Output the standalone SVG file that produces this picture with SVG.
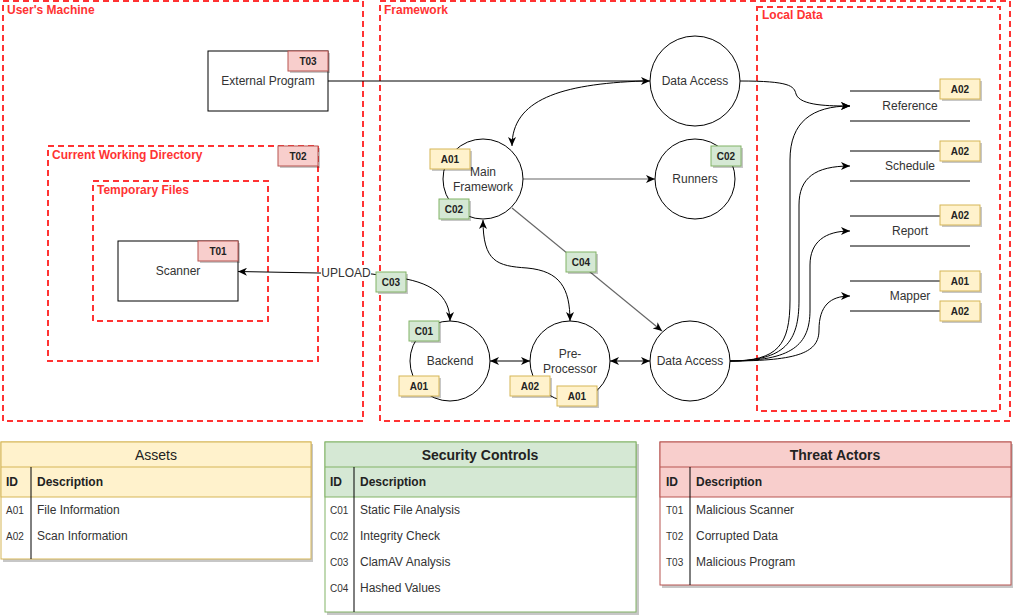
<svg xmlns="http://www.w3.org/2000/svg" width="1014" height="616" viewBox="0 0 1014 616">
<style>
.zone{fill:none;stroke:#FF3333;stroke-width:2;stroke-dasharray:6 4}
.zl{font-family:"Liberation Sans",Arial,sans-serif;font-size:12px;font-weight:bold;fill:#FF3333}
.proc{fill:#fff;stroke:#000;stroke-width:1}
.t{font-family:"Liberation Sans",Arial,sans-serif;font-size:12px;fill:#333;text-anchor:middle;dominant-baseline:central}
.ba{fill:#fff2cc;stroke:#d6b656}
.bc{fill:#d5e8d4;stroke:#82b366}
.br{fill:#f8cecc;stroke:#b85450}
.sh{fill:#000;opacity:0.22}
.bt{font-family:"Liberation Sans",Arial,sans-serif;font-size:10px;font-weight:bold;fill:#222;text-anchor:middle;dominant-baseline:central}
.e{fill:none;stroke:#000;stroke-width:1}
.eg{fill:none;stroke:#666;stroke-width:1.2}
.st{stroke:#000;stroke-width:1}
.tt{font-family:"Liberation Sans",Arial,sans-serif;font-size:14px;fill:#222;text-anchor:middle;dominant-baseline:central}
.th{font-family:"Liberation Sans",Arial,sans-serif;font-size:12px;font-weight:bold;fill:#222;dominant-baseline:central}
.tid{font-family:"Liberation Sans",Arial,sans-serif;font-size:10px;fill:#333;dominant-baseline:central}
.td{font-family:"Liberation Sans",Arial,sans-serif;font-size:12px;fill:#333;dominant-baseline:central}
</style>
<defs>
<marker id="ar" markerUnits="userSpaceOnUse" markerWidth="10" markerHeight="8" refX="9" refY="4" orient="auto-start-reverse">
<path d="M0,0 L9,4 L0,8 L2.5,4 z" fill="#000"/>
</marker>
</defs>
<rect width="1014" height="616" fill="#fff"/>

<!-- zones -->
<g id="users-machine">
<rect class="zone" x="3" y="1" width="360" height="420"/>
<text class="zl" x="7" y="14">User's Machine</text>
</g>
<g id="framework">
<rect class="zone" x="380" y="1" width="630" height="420"/>
<text class="zl" x="384" y="14">Framework</text>
</g>
<g id="local-data">
<rect class="zone" x="757" y="7" width="243" height="404"/>
<text class="zl" x="762" y="19">Local Data</text>
</g>
<g id="cwd">
<rect class="zone" x="48" y="146" width="270" height="215"/>
<text class="zl" x="52" y="159">Current Working Directory</text>
<rect class="sh" x="280" y="148" width="40" height="20"/>
<rect class="br" x="278" y="146" width="40" height="20"/>
<text class="bt" x="298" y="156">T02</text>
</g>
<g id="temp-files">
<rect class="zone" x="93" y="181" width="175" height="140"/>
<text class="zl" x="97" y="194">Temporary Files</text>
</g>

<!-- connectors -->
<g id="connectors">
<path class="e" d="M328 81 L650 81" marker-end="url(#ar)"/>
<path class="e" d="M643 81 C560 84 512 100 512 146" marker-end="url(#ar)"/>
<path class="eg" d="M523 179 L655 179" marker-end="url(#ar)"/>
<path class="e" d="M483 220 C483 262 497 266 527 268 C560 271 570 288 570 321" marker-start="url(#ar)" marker-end="url(#ar)"/>
<path class="eg" d="M512 208 L662 331" marker-end="url(#ar)"/>
<path class="e" d="M490 361 L530 361" marker-start="url(#ar)" marker-end="url(#ar)"/>
<path class="e" d="M610 361 L650 361" marker-start="url(#ar)" marker-end="url(#ar)"/>
<path class="e" d="M450 321 C450 296 432 281 392 277 L372 274 L238 271.5" marker-start="url(#ar)" marker-end="url(#ar)"/>
<path class="e" d="M740 81 C790 81 794 86 796 94 C800 106 830 106 850 106" marker-end="url(#ar)"/>
<path class="e" d="M730 361 C778 361 790 345 790 300 L790 160 C790 122 812 106 850 106" marker-end="url(#ar)"/>
<path class="e" d="M730 361 C785 361 799 342 799 300 L799 205 C799 178 815 166 850 166" marker-end="url(#ar)"/>
<path class="e" d="M730 361 C792 361 810 345 810 310 L810 265 C810 242 825 231 850 231" marker-end="url(#ar)"/>
<path class="e" d="M730 361 C800 361 819 352 819 330 C819 306 830 296 850 296" marker-end="url(#ar)"/>
<rect x="321" y="265" width="50" height="16" fill="#fff"/>
<text class="t" x="346" y="273">UPLOAD</text>
</g>

<!-- nodes -->
<g id="external-program">
<rect class="proc" x="208" y="51" width="120" height="60"/>
<text class="t" x="268" y="81">External Program</text>
<rect class="sh" x="290" y="53" width="40" height="20"/>
<rect class="br" x="288" y="51" width="40" height="20"/>
<text class="bt" x="308" y="61">T03</text>
</g>
<g id="scanner">
<rect class="proc" x="118" y="241" width="120" height="60"/>
<text class="t" x="178" y="271">Scanner</text>
<rect class="sh" x="200" y="243" width="40" height="20"/>
<rect class="br" x="198" y="241" width="40" height="20"/>
<text class="bt" x="218" y="251">T01</text>
</g>
<g id="data-access-top">
<circle class="proc" cx="695" cy="81" r="45"/>
<text class="t" x="695" y="81">Data Access</text>
</g>
<g id="main-framework">
<circle class="proc" cx="483" cy="179" r="40"/>
<text class="t" x="483" y="172">Main</text>
<text class="t" x="483" y="187">Framework</text>
<rect class="sh" x="432" y="151" width="40" height="20"/>
<rect class="ba" x="430" y="149" width="40" height="20"/>
<text class="bt" x="450" y="159">A01</text>
<rect class="sh" x="441" y="201" width="30" height="20"/>
<rect class="bc" x="439" y="199" width="30" height="20"/>
<text class="bt" x="454" y="209">C02</text>
</g>
<g id="runners">
<circle class="proc" cx="695" cy="179" r="40"/>
<text class="t" x="695" y="179">Runners</text>
<rect class="sh" x="713" y="148" width="30" height="20"/>
<rect class="bc" x="711" y="146" width="30" height="20"/>
<text class="bt" x="726" y="156">C02</text>
</g>
<g id="backend">
<circle class="proc" cx="450" cy="361" r="40"/>
<text class="t" x="450" y="361">Backend</text>
<rect class="sh" x="411" y="323" width="30" height="20"/>
<rect class="bc" x="409" y="321" width="30" height="20"/>
<text class="bt" x="424" y="331">C01</text>
<rect class="sh" x="401" y="378" width="40" height="20"/>
<rect class="ba" x="399" y="376" width="40" height="20"/>
<text class="bt" x="419" y="386">A01</text>
</g>
<g id="pre-processor">
<circle class="proc" cx="570" cy="361" r="40"/>
<text class="t" x="570" y="354">Pre-</text>
<text class="t" x="570" y="369">Processor</text>
<rect class="sh" x="512" y="378" width="40" height="20"/>
<rect class="ba" x="510" y="376" width="40" height="20"/>
<text class="bt" x="530" y="386">A02</text>
<rect class="sh" x="559" y="388" width="40" height="20"/>
<rect class="ba" x="557" y="386" width="40" height="20"/>
<text class="bt" x="577" y="396">A01</text>
</g>
<g id="data-access-bottom">
<circle class="proc" cx="690" cy="361" r="40"/>
<text class="t" x="690" y="361">Data Access</text>
</g>
<g id="label-c03">
<rect class="sh" x="378" y="274" width="30" height="20"/>
<rect class="bc" x="376" y="272" width="30" height="20"/>
<text class="bt" x="391" y="282">C03</text>
</g>
<g id="label-c04">
<rect class="sh" x="568" y="254" width="30" height="20"/>
<rect class="bc" x="566" y="252" width="30" height="20"/>
<text class="bt" x="581" y="262">C04</text>
</g>

<!-- data stores -->
<g id="store-reference">
<line class="st" x1="850" y1="91" x2="970" y2="91"/>
<line class="st" x1="850" y1="121" x2="970" y2="121"/>
<text class="t" x="910" y="106">Reference</text>
<rect class="sh" x="942" y="81" width="40" height="20"/>
<rect class="ba" x="940" y="79" width="40" height="20"/>
<text class="bt" x="960" y="89">A02</text>
</g>
<g id="store-schedule">
<line class="st" x1="850" y1="151" x2="970" y2="151"/>
<line class="st" x1="850" y1="181" x2="970" y2="181"/>
<text class="t" x="910" y="166">Schedule</text>
<rect class="sh" x="942" y="143" width="40" height="20"/>
<rect class="ba" x="940" y="141" width="40" height="20"/>
<text class="bt" x="960" y="151">A02</text>
</g>
<g id="store-report">
<line class="st" x1="850" y1="216" x2="970" y2="216"/>
<line class="st" x1="850" y1="246" x2="970" y2="246"/>
<text class="t" x="910" y="231">Report</text>
<rect class="sh" x="942" y="207" width="40" height="20"/>
<rect class="ba" x="940" y="205" width="40" height="20"/>
<text class="bt" x="960" y="215">A02</text>
</g>
<g id="store-mapper">
<line class="st" x1="850" y1="281" x2="970" y2="281"/>
<line class="st" x1="850" y1="311" x2="970" y2="311"/>
<text class="t" x="910" y="296">Mapper</text>
<rect class="sh" x="942" y="273" width="40" height="20"/>
<rect class="ba" x="940" y="271" width="40" height="20"/>
<text class="bt" x="960" y="281">A01</text>
<rect class="sh" x="942" y="303" width="40" height="20"/>
<rect class="ba" x="940" y="301" width="40" height="20"/>
<text class="bt" x="960" y="311">A02</text>
</g>

<!-- tables -->
<g id="table-assets">
<rect class="sh" x="3" y="444" width="310" height="118"/>
<rect x="1" y="442" width="310" height="117" fill="#fff" stroke="#d6b656"/>
<rect x="1" y="442" width="310" height="55" fill="#fff2cc" stroke="#d6b656"/>
<line x1="1" y1="467" x2="311" y2="467" stroke="#d6b656"/>
<line x1="31" y1="467" x2="31" y2="559" stroke="#000"/>
<text class="tt" x="156" y="455">Assets</text>
<text class="th" x="6" y="482">ID</text>
<text class="th" x="37" y="482">Description</text>
<text class="tid" x="6" y="510">A01</text>
<text class="td" x="37" y="510">File Information</text>
<text class="tid" x="6" y="536">A02</text>
<text class="td" x="37" y="536">Scan Information</text>
</g>
<g id="table-controls">
<rect class="sh" x="327" y="444" width="312" height="171"/>
<rect x="325" y="442" width="311" height="170" fill="#fff" stroke="#82b366"/>
<rect x="325" y="442" width="311" height="55" fill="#d5e8d4" stroke="#82b366"/>
<line x1="325" y1="467" x2="636" y2="467" stroke="#82b366"/>
<line x1="354" y1="467" x2="354" y2="612" stroke="#000"/>
<text class="tt" x="480" y="455" font-weight="bold">Security Controls</text>
<text class="th" x="330" y="482">ID</text>
<text class="th" x="360" y="482">Description</text>
<text class="tid" x="330" y="510">C01</text>
<text class="td" x="360" y="510">Static File Analysis</text>
<text class="tid" x="330" y="536">C02</text>
<text class="td" x="360" y="536">Integrity Check</text>
<text class="tid" x="330" y="562">C03</text>
<text class="td" x="360" y="562">ClamAV Analysis</text>
<text class="tid" x="330" y="588">C04</text>
<text class="td" x="360" y="588">Hashed Values</text>
</g>
<g id="table-threats">
<rect class="sh" x="662" y="444" width="351" height="144"/>
<rect x="660" y="442" width="351" height="143" fill="#fff" stroke="#b85450"/>
<rect x="660" y="442" width="351" height="55" fill="#f8cecc" stroke="#b85450"/>
<line x1="660" y1="467" x2="1011" y2="467" stroke="#b85450"/>
<line x1="690" y1="467" x2="690" y2="585" stroke="#000"/>
<text class="tt" x="835" y="455" font-weight="bold">Threat Actors</text>
<text class="th" x="666" y="482">ID</text>
<text class="th" x="696" y="482">Description</text>
<text class="tid" x="666" y="510">T01</text>
<text class="td" x="696" y="510">Malicious Scanner</text>
<text class="tid" x="666" y="536">T02</text>
<text class="td" x="696" y="536">Corrupted Data</text>
<text class="tid" x="666" y="562">T03</text>
<text class="td" x="696" y="562">Malicious Program</text>
</g>
</svg>
